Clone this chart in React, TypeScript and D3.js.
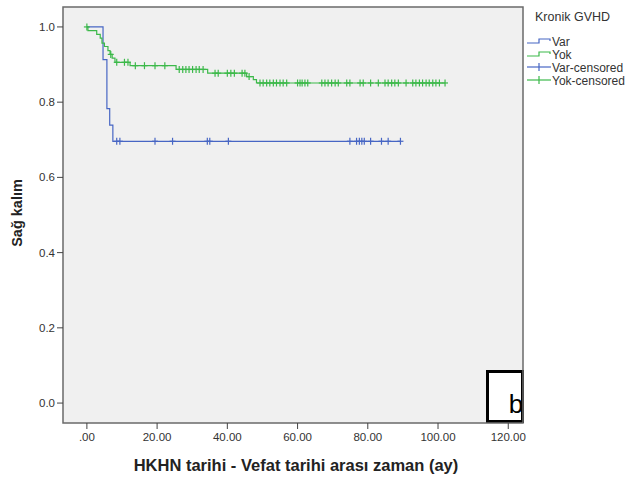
import React from "react";
import * as d3 from "d3";

// Kaplan-Meier steps (months, survival)
const varTimes = [0, 4.6, 5.7, 6.5, 7.4];
const varSurv = [1, 0.913, 0.783, 0.739, 0.696];
const varEnd = 89.3;
const varCensored = [8.5, 9.4, 19.4, 24.4, 34.3, 35.0, 40.3, 74.9, 76.8, 77.6, 78.3, 79.0, 80.8, 83.9, 85.8, 89.3];

const yokTimes = [0, 0.3, 2.8, 3.8, 4.3, 5.0, 6.0, 6.6, 7.2, 8.0, 12.3, 25.4, 34.4, 45.5, 47.4, 48.3];
const yokSurv = [1, 0.99, 0.98, 0.97, 0.957, 0.948, 0.937, 0.927, 0.917, 0.906, 0.897, 0.887, 0.877, 0.868, 0.86, 0.851];
const yokEnd = 102.0;
const yokCensored = [
  0, 6.8, 8.5, 10.7, 11.7, 13.8, 16.4, 19.4, 22.2, 26.3, 27.3, 28.2, 29.1, 30.1, 31.1, 32.0, 33.1,
  36.5, 37.4, 40.0, 41.0, 42.0, 44.2, 45.0, 46.2, 49.3, 50.2, 51.2, 52.1, 53.1, 54.0, 55.0, 55.9,
  56.9, 60.0, 60.7, 61.3, 62.1, 62.9, 66.9, 67.8, 68.7, 69.7, 70.7, 71.6, 74.0, 74.9, 77.8, 78.7,
  80.8, 83.0, 84.9, 85.8, 86.8, 87.7, 88.7, 90.9, 92.8, 93.7, 94.7, 95.6, 96.6, 97.5, 98.5, 99.4,
  100.4, 102.0,
];

const xTicks = [0, 20, 40, 60, 80, 100, 120];
const yTicks = [0, 0.2, 0.4, 0.6, 0.8, 1.0];
const legendLabels = ["Var", "Yok", "Var-censored", "Yok-censored"];

const BLUE = "#4766c4";
const GREEN = "#3cb94a";
const FONT = "'Liberation Sans', Arial, sans-serif";

const left = 63, right = 523, top = 7, bottom = 423;

const x = d3.scaleLinear().domain([-6.8, 124.2]).range([left, right]);
const y = d3.scaleLinear().domain([-0.053, 1.053]).range([bottom, top]);

function survAt(times: number[], surv: number[], t: number) {
  let v = surv[0];
  for (let i = 0; i < times.length; i++) if (times[i] <= t) v = surv[i];
  return v;
}

const line = d3
  .line<[number, number]>()
  .x(d => x(d[0]))
  .y(d => y(d[1]))
  .curve(d3.curveStepAfter);

function pathFor(times: number[], surv: number[], end: number) {
  const pts: [number, number][] = times.map((t, i) => [t, surv[i]]);
  pts.push([end, surv[surv.length - 1]]);
  return line(pts) || "";
}

function Censor({ cx, cy, color }: { cx: number; cy: number; color: string }) {
  return (
    <g stroke={color} strokeWidth={1.2}>
      <line x1={cx - 3} x2={cx + 3} y1={cy} y2={cy} />
      <line x1={cx} x2={cx} y1={cy - 3.5} y2={cy + 3.5} />
    </g>
  );
}

export default function App() {
  const fmtX = (v: number) => (v === 0 ? ".00" : v.toFixed(2));
  return (
    <svg width={633} height={477} style={{ position: "absolute", left: 0, top: 0, background: "#fff" }} fontFamily={FONT}>
      <rect x={left} y={top} width={right - left} height={bottom - top} fill="#f0f0f0" />

      <path d={pathFor(varTimes, varSurv, varEnd)} fill="none" stroke={BLUE} strokeWidth={1.2} />
      <path d={pathFor(yokTimes, yokSurv, yokEnd)} fill="none" stroke={GREEN} strokeWidth={1.2} />
      {varCensored.map((t, i) => (
        <Censor key={"v" + i} cx={x(t)} cy={y(survAt(varTimes, varSurv, t))} color={BLUE} />
      ))}
      {yokCensored.map((t, i) => (
        <Censor key={"y" + i} cx={x(t)} cy={y(survAt(yokTimes, yokSurv, t))} color={GREEN} />
      ))}

      {/* b label box */}
      <rect x={487.5} y={371.5} width={35} height={50} fill="#fff" stroke="#000" strokeWidth={3} />
      <text x={516} y={413} fontSize={26} textAnchor="middle" fill="#000">b</text>

      <rect x={left} y={top} width={right - left} height={bottom - top} fill="none" stroke="#6a6a6a" strokeWidth={1.5} />

      {yTicks.map(v => (
        <g key={v}>
          <line x1={57} x2={left} y1={y(v)} y2={y(v)} stroke="#444" strokeWidth={1} />
          <text x={55} y={y(v) + 4} fontSize={11.5} textAnchor="end" fill="#333">{v.toFixed(1)}</text>
        </g>
      ))}
      {xTicks.map(v => (
        <g key={v}>
          <line x1={x(v)} x2={x(v)} y1={bottom} y2={bottom + 6} stroke="#444" strokeWidth={1} />
          <text x={x(v)} y={bottom + 18} fontSize={11.5} textAnchor="middle" fill="#333">{fmtX(v)}</text>
        </g>
      ))}

      <text x={296} y={471} fontSize={16.5} fontWeight="bold" textAnchor="middle" fill="#222">
        HKHN tarihi - Vefat tarihi arası zaman (ay)
      </text>
      <text transform="translate(22,213) rotate(-90)" fontSize={14.5} fontWeight="bold" textAnchor="middle" fill="#222">
        Sağ kalım
      </text>

      {/* legend */}
      <text x={535} y={21} fontSize={12.5} fill="#333">Kronik GVHD</text>
      {legendLabels.map((lab, i) => {
        const ly = 41 + i * 13;
        const c = i % 2 === 0 ? BLUE : GREEN;
        return (
          <g key={lab}>
            {i < 2 ? (
              <path d={`M527,${ly + 2}H539V${ly - 2}H550V${ly}`} fill="none" stroke={c} strokeWidth={1.2} />
            ) : (
              <g stroke={c} strokeWidth={1.2}>
                <line x1={527} x2={551} y1={ly} y2={ly} />
                <line x1={539} x2={539} y1={ly - 4} y2={ly + 4} />
              </g>
            )}
            <text x={552} y={ly + 4.5} fontSize={12} fill="#333">{lab}</text>
          </g>
        );
      })}
    </svg>
  );
}
